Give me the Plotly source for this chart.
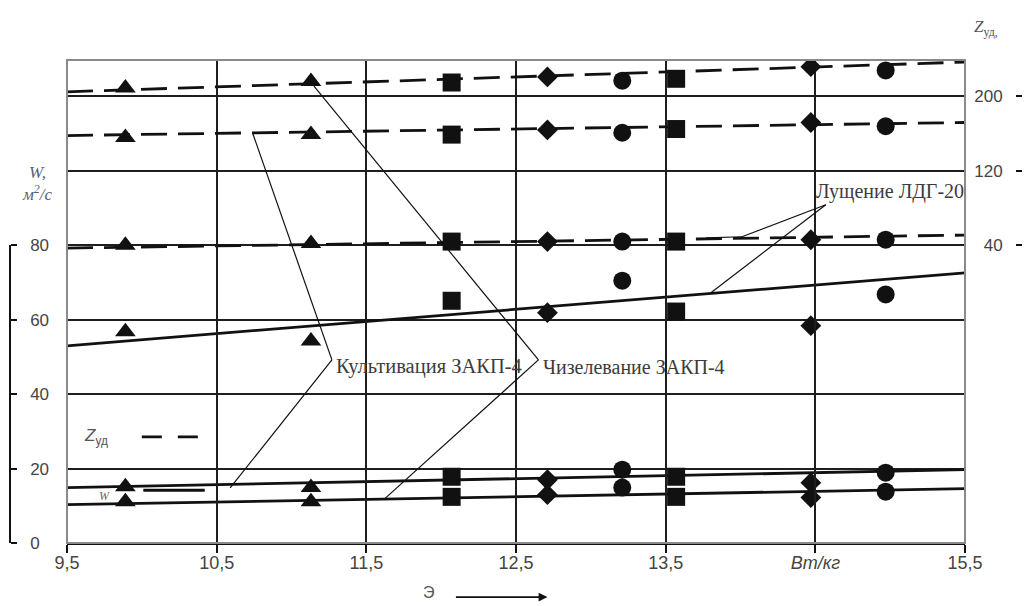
import plotly.graph_objects as go

# ---- data -------------------------------------------------------------
# specific energy Э, Вт/кг (positions of the measured points)
x_tri = [9.89, 11.13]      # Культивация ЗАКП-4
x_sq = [12.07, 13.57]      # Чизелевание ЗАКП-4
x_dia = [12.71, 14.47]     # Лущение ЛДГ-20
x_circ = [13.21, 14.97]    # Лущение ЛДГ-20 (второй режим)

# W, м²/с — three groups of measurements
w_high_tri = [56.8, 54.3]
w_high_sq = [65.1, 62.2]
w_high_dia = [61.9, 58.4]
w_high_circ = [70.5, 66.8]

w_mid_tri = [15.1, 14.9]
w_mid_sq = [17.8, 17.8]
w_mid_dia = [17.0, 16.2]
w_mid_circ = [19.7, 18.9]

w_low_tri = [11.1, 11.1]
w_low_sq = [12.4, 12.4]
w_low_dia = [13.0, 12.2]
w_low_circ = [14.9, 13.8]

# Z_уд — three groups of measurements
z_top_tri = [209, 216]
z_top_sq = [215, 219]
z_top_dia = [221, 232]
z_top_circ = [217, 228]

z_mid_tri = [156, 159]
z_mid_sq = [159, 165]
z_mid_dia = [164, 172]
z_mid_circ = [161, 168]

z_low_tri = [40, 42]
z_low_sq = [44, 44]
z_low_dia = [44, 46]
z_low_circ = [44, 46]

# trend lines, values at the ends of the Э range
x_fit = [9.5, 15.5]
w_fit_high = [53.0, 72.6]
w_fit_mid = [14.9, 19.7]
w_fit_low = [10.3, 14.6]
z_fit_top = [205, 237]
z_fit_mid = [158, 172]
z_fit_low = [37, 51]

x_ticks = [9.5, 10.5, 11.5, 12.5, 13.5, 14.5, 15.5]
x_tick_text = ["9,5", "10,5", "11,5", "12,5", "13,5", "<i>Вт/кг</i>", "15,5"]
w_grid = [0, 20, 40, 60, 80, 100, 120]
w_tick_vals = [0, 20, 40, 60, 80]
z_tick_vals = [40, 120, 200]

# ---- layout constants --------------------------------------------------
W_MAX = 129.8
# Z_уд axis is tied to the W axis: Z = 40 + 4·(W − 80)
Z_RANGE = [40 + 4 * (0 - 80), 40 + 4 * (W_MAX - 80)]

INK = "#111111"
GRID = "#1e1e1e"
TXT = "#3c3c3c"
SANS = "Liberation Sans, Arial, sans-serif"
SERIF = "Liberation Serif, Times New Roman, serif"
X_DOMAIN = [65 / 1023, 963 / 1023]

fig = go.Figure()

# trend lines
for ys in (w_fit_high, w_fit_mid, w_fit_low):
    fig.add_trace(go.Scatter(x=x_fit, y=ys, mode="lines",
                             line=dict(color=INK, width=2.8),
                             hoverinfo="skip", showlegend=False))
for zs in (z_fit_top, z_fit_mid, z_fit_low):
    fig.add_trace(go.Scatter(x=x_fit, y=zs, mode="lines", yaxis="y2",
                             line=dict(color=INK, width=2.8, dash="26px,11px"),
                             hoverinfo="skip", showlegend=False))

groups = [
    (x_tri, "triangle-up", 18),
    (x_sq, "square", 18),
    (x_dia, "diamond", 16),
    (x_circ, "circle", 18),
]
w_sets = [
    (w_high_tri, w_high_sq, w_high_dia, w_high_circ),
    (w_mid_tri, w_mid_sq, w_mid_dia, w_mid_circ),
    (w_low_tri, w_low_sq, w_low_dia, w_low_circ),
]
z_sets = [
    (z_top_tri, z_top_sq, z_top_dia, z_top_circ),
    (z_mid_tri, z_mid_sq, z_mid_dia, z_mid_circ),
    (z_low_tri, z_low_sq, z_low_dia, z_low_circ),
]
for vals in w_sets:
    for (xs, sym, sz), ys in zip(groups, vals):
        fig.add_trace(go.Scatter(x=xs, y=ys, mode="markers",
                                 marker=dict(symbol=sym, size=sz, color=INK),
                                 showlegend=False))
for vals in z_sets:
    for (xs, sym, sz), zs in zip(groups, vals):
        fig.add_trace(go.Scatter(x=xs, y=zs, mode="markers", yaxis="y2",
                                 marker=dict(symbol=sym, size=sz, color=INK),
                                 showlegend=False))

# an invisible trace keeps the left W scale drawn
fig.add_trace(go.Scatter(x=[None], y=[None], yaxis="y3", showlegend=False,
                         hoverinfo="skip"))

shapes = []
# plot frame
shapes.append(dict(type="rect", xref="paper", yref="paper",
                   x0=X_DOMAIN[0], x1=X_DOMAIN[1], y0=0, y1=1, layer="above",
                   line=dict(color="#8a8a8a", width=2)))
# leader lines from the captions
thin = dict(color=INK, width=1.2)
leaders = [
    # Культивация ЗАКП-4
    (11.27, 49.2, 10.74, 110.2),
    (11.27, 49.2, 10.59, 14.8),
    # Чизелевание ЗАКП-4
    (12.65, 49.2, 11.15, 122.8),
    (12.65, 49.2, 11.62, 11.8),
    # Лущение ЛДГ-20
    (14.57, 90.9, 14.01, 82.3),
    (14.01, 82.3, 13.77, 82.0),
    (14.57, 90.9, 13.80, 67.2),
]
for x0, y0, x1, y1 in leaders:
    shapes.append(dict(type="line", xref="x", yref="y",
                       x0=x0, y0=y0, x1=x1, y1=y1, line=thin))
# key samples: dashed = Z_уд, solid = W
shapes.append(dict(type="line", xref="x", yref="y", x0=10.0, x1=10.42,
                   y0=28.5, y1=28.5,
                   line=dict(color=INK, width=2.8, dash="20px,16px")))
shapes.append(dict(type="line", xref="x", yref="y", x0=10.01, x1=10.42,
                   y0=14.2, y1=14.2, line=dict(color=INK, width=3)))

annotations = [
    dict(x=11.285, y=47.4, xref="x", yref="y", xanchor="left", yanchor="middle",
         text="Культивация ЗАКП-4", showarrow=False,
         font=dict(family=SERIF, size=20.5, color=TXT)),
    dict(x=12.67, y=47.4, xref="x", yref="y", xanchor="left", yanchor="middle",
         text="Чизелевание ЗАКП-4", showarrow=False,
         font=dict(family=SERIF, size=20, color=TXT)),
    dict(x=14.49, y=94.4, xref="x", yref="y", xanchor="left", yanchor="middle",
         text="Лущение ЛДГ-20", showarrow=False,
         font=dict(family=SERIF, size=20, color=TXT)),
    dict(x=9.60, y=28.5, xref="x", yref="y", xanchor="left", yanchor="middle",
         text="<i>Z</i><sub>уд</sub>", showarrow=False,
         font=dict(family=SANS, size=17, color="#555555")),
    dict(x=9.70, y=12.6, xref="x", yref="y", xanchor="left", yanchor="middle",
         text="<i>W</i>", showarrow=False,
         font=dict(family=SERIF, size=12, color="#666666")),
    # axis captions
    dict(x=0.035, y=0.745, xref="paper", yref="paper", xanchor="center",
         yanchor="middle", align="center",
         text="<i>W,</i><br><i>м<sup>2</sup>/с</i>", showarrow=False,
         font=dict(family=SERIF, size=17, color="#556077")),
    dict(x=0.962, y=1.066, xref="paper", yref="paper", xanchor="center",
         yanchor="middle", text="<i>Z</i><sub>уд,</sub>", showarrow=False,
         font=dict(family=SERIF, size=17, color="#555555")),
    dict(x=11.92, y=-0.103, xref="x", yref="paper", xanchor="center",
         yanchor="middle", text="Э", showarrow=False,
         font=dict(family=SANS, size=16, color="#555555")),
    dict(x=12.71, y=-0.112, xref="x", yref="paper", text="",
         showarrow=True, ax=-93, ay=0, arrowhead=2, arrowsize=1.1,
         arrowwidth=1.6, arrowcolor=INK),
]

fig.update_layout(
    width=1027, height=606,
    margin=dict(l=2, r=2, t=60, b=63, autoexpand=False),
    paper_bgcolor="white", plot_bgcolor="rgba(0,0,0,0)",
    showlegend=False,
    shapes=shapes,
    annotations=annotations,
    xaxis=dict(
        domain=X_DOMAIN, range=[9.5, 15.5], automargin=False,
        tickvals=x_ticks, ticktext=x_tick_text,
        ticks="outside", ticklen=8, tickwidth=1.5, tickcolor=INK,
        showline=True, linecolor=INK, linewidth=2,
        showgrid=True, gridcolor=GRID, gridwidth=1.5, zeroline=False,
        tickfont=dict(family=SANS, size=18, color="#444444"),
        ticklabelstandoff=-6,
    ),
    yaxis=dict(
        range=[0, W_MAX], tickvals=w_grid, showticklabels=False,
        automargin=False,
        ticks="", showline=False, showgrid=True, gridcolor=GRID,
        gridwidth=1.5, zeroline=False,
    ),
    yaxis2=dict(
        overlaying="y", anchor="free", position=1020 / 1023, side="left",
        range=Z_RANGE, tickvals=z_tick_vals, automargin=False,
        ticks="outside", ticklen=6, tickwidth=1.5, tickcolor=INK,
        showline=False, showgrid=False, zeroline=False,
        tickfont=dict(family=SANS, size=17, color="#444444"),
        ticklabelstandoff=10,
    ),
    yaxis3=dict(
        domain=[0, 80 / W_MAX], range=[0, 80], anchor="free",
        position=8 / 1023, side="right", tickvals=w_tick_vals,
        automargin=False,
        ticks="outside", ticklen=6, tickwidth=1.5, tickcolor=INK,
        showline=True, linecolor=INK, linewidth=1.5,
        showgrid=False, zeroline=False,
        tickfont=dict(family=SANS, size=17, color="#444444"),
        ticklabelstandoff=10,
    ),
)

fig.write_html("out.html")
